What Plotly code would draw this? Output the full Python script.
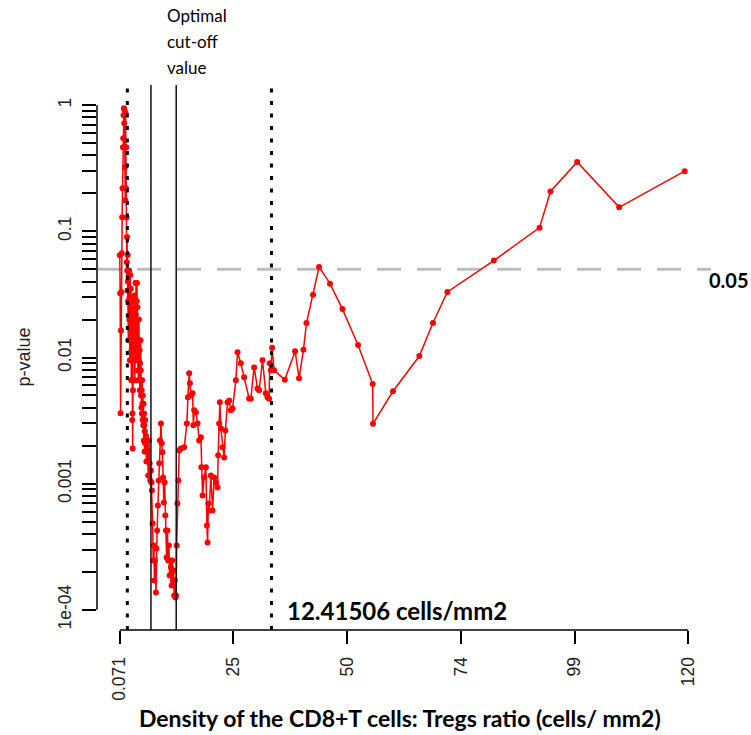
import plotly.graph_objects as go

# ---- data ----
ratio = [
    0.071, 0.155, 0.240, 0.324, 0.408, 0.493, 0.577, 0.661, 0.745, 0.809,
    0.872, 0.956, 1.019, 1.083, 1.167, 1.230, 1.293, 1.378, 1.441, 1.50,
    1.55, 1.60, 1.65, 1.70, 1.75, 1.80, 1.85, 1.90, 1.95, 2.00,
    2.05, 2.10, 2.15, 2.20, 2.25, 2.30, 2.35, 2.40, 2.45, 2.50,
    2.55, 2.60, 2.65, 2.70, 2.75, 2.80, 2.85, 2.90, 2.95, 3.00,
    3.05, 3.10, 3.15, 3.20, 3.25, 3.30, 3.35, 3.40, 3.45, 3.50,
    3.55, 3.60, 3.65, 3.70, 3.75, 3.80, 3.85, 3.90, 3.95, 4.00,
    4.05, 4.10, 4.15, 4.20, 4.25, 4.30, 4.35, 4.40, 4.45, 4.50,
    4.55, 4.60, 4.65, 4.70, 4.75, 4.80, 4.85, 4.90, 4.95, 5.00,
    5.05, 5.10, 5.15, 5.20, 5.25, 5.30, 5.35, 5.40, 5.45, 5.50,
    5.60, 5.70, 5.80, 5.951, 6.077, 6.225, 6.372, 6.499, 6.646, 6.752,
    6.857, 7.005,
    7.131, 7.279, 7.384, 7.489, 7.700, 7.806, 7.953, 8.122, 8.290, 8.396,
    8.543, 8.754, 8.923, 9.070, 9.218, 9.386, 9.534, 9.681, 9.808, 9.955,
    10.124, 10.271, 10.440, 10.588, 10.735, 10.861, 11.009, 11.157, 11.283, 11.430,
    11.557, 11.704, 11.831, 11.957, 12.084, 12.231, 12.442, 12.610, 12.969, 13.664,
    14.233, 14.444, 14.718, 14.865, 15.076, 15.434, 15.603, 15.772, 16.130, 16.488,
    16.826, 17.184, 17.289, 17.542, 17.879, 18.237, 18.448, 18.596, 18.764, 18.933,
    19.291, 19.650, 19.987, 20.345, 20.703, 20.830, 21.040, 21.188, 21.399, 21.757,
    22.094, 22.347, 22.811, 23.148, 23.506, 23.865, 24.560, 24.918, 25.614, 26.309,
    27.363, 27.721, 28.417, 29.133, 29.470, 30.187, 30.882, 31.241, 31.578, 31.700,
    31.936, 32.210, 32.630, 34.89, 37.06, 37.90, 38.83, 39.46, 40.85, 42.12,
    44.43, 47.05, 50.34, 53.43, 53.50, 57.71, 63.27, 66.14, 69.18, 78.99,
    88.63, 90.94, 96.57, 105.43, 119.25,
]

pval = [
    0.0646, 0.0323, 0.00361, 0.0164, 0.0329, 0.0670, 0.1293, 0.2197, 0.464, 0.547,
    0.833, 0.947, 0.720, 0.913, 0.322, 0.1764, 0.864, 0.2197, 0.464, 0.129,
    0.057, 0.090, 0.049, 0.034, 0.065, 0.040, 0.028, 0.0137, 0.045, 0.034,
    0.049, 0.020, 0.030, 0.0095, 0.028, 0.045, 0.016, 0.035, 0.024, 0.0066,
    0.0114, 0.028, 0.018, 0.0032, 0.0036, 0.0019, 0.0055, 0.016, 0.028, 0.0095,
    0.020, 0.0137, 0.031, 0.016, 0.0066, 0.0137, 0.024, 0.039, 0.022, 0.039,
    0.016, 0.0095, 0.028, 0.039, 0.020, 0.025, 0.0137, 0.0079, 0.0125, 0.0066,
    0.0095, 0.020, 0.0137, 0.0079, 0.0114, 0.0055, 0.0090, 0.0066, 0.0137, 0.0079,
    0.0050, 0.0066, 0.0040, 0.0055, 0.0036, 0.0066, 0.0043, 0.0032, 0.0050, 0.0035,
    0.0029, 0.0043, 0.0022, 0.0036, 0.0029, 0.0018, 0.0026, 0.0021, 0.0032, 0.0018,
    0.0024, 0.0015, 0.0022, 0.00183, 0.00116, 0.00220, 0.00145, 0.00106, 0.00127, 0.00102,
    0.000884, 0.000484,
    0.000246, 0.000324, 0.000171, 0.000246, 0.000137, 0.000306, 0.000426, 0.000672, 0.00106, 0.00145,
    0.00220, 0.00300, 0.00209, 0.00177, 0.00112, 0.00071, 0.00102, 0.00056, 0.000426, 0.00026,
    0.000426, 0.000246, 0.000324, 0.000187, 0.000246, 0.000217, 0.000156, 0.000246, 0.000171, 0.000205,
    0.000130, 0.000171, 0.000125, 0.000130, 0.000324, 0.000697, 0.00106, 0.00183, 0.0019, 0.00194,
    0.0030, 0.00483, 0.00749, 0.00624, 0.00501, 0.0052, 0.0029, 0.00381, 0.00367, 0.0030,
    0.0022, 0.00233, 0.00135, 0.000807, 0.00112, 0.00135, 0.000466, 0.000342, 0.000697, 0.000613,
    0.00116, 0.000613, 0.00112, 0.00102, 0.000934, 0.00168, 0.0030, 0.00441, 0.00274, 0.00194,
    0.00161, 0.00264, 0.00441, 0.00457, 0.00381, 0.00395, 0.00659, 0.01099, 0.00899, 0.00696,
    0.00474, 0.0047, 0.00835, 0.00569, 0.00549, 0.0095, 0.0052, 0.00483, 0.0047, 0.00899,
    0.00791, 0.01197, 0.00791, 0.00667, 0.0112, 0.00684, 0.01154, 0.01876, 0.0315, 0.0522,
    0.0385, 0.0242, 0.01256, 0.00616, 0.00299, 0.0054, 0.01027, 0.01876, 0.0331, 0.0586,
    0.107, 0.207, 0.355, 0.155, 0.2997,
]

dotted_cutoffs = [1.67, 32.08]
solid_cutoffs = [6.65, 11.98]
p_threshold = 0.05
threshold_label = "0.05"
cutoff_label = "12.41506 cells/mm2"
optimal_label_lines = ["Optimal", "cut-off", "value"]

x_tick_labels = ["0.071", "25", "50", "74", "99", "120"]
x_first, x_last = 0.071, 120.0
y_decades = [1e-4, 1e-3, 1e-2, 1e-1, 1.0]
y_decade_labels = ["1e-04", "0.001", "0.01", "0.1", "1"]

x_title = "Density of the CD8+T cells: Tregs ratio (cells/ mm2)"
y_title = "p-value"

# ---- figure ----
W, H = 751, 735
ML, MR, MT, MB = 97, 40, 85, 105
PW, PH = W - ML - MR, H - MT - MB

fig = go.Figure()

fig.add_trace(go.Scatter(
    x=ratio, y=pval, mode="lines+markers",
    line=dict(color="#ff0000", width=1.5),
    marker=dict(color="#ff0000", size=6),
    hoverinfo="skip", showlegend=False,
))

shapes = []
for xv in dotted_cutoffs:
    shapes.append(dict(type="line", xref="x", yref="paper", x0=xv, x1=xv, y0=0, y1=1,
                       line=dict(color="black", width=3, dash="4px,8.5px")))
for xv in solid_cutoffs:
    shapes.append(dict(type="line", xref="x", yref="paper", x0=xv, x1=xv, y0=0, y1=1,
                       line=dict(color="#111111", width=1.5)))
shapes.append(dict(type="line", xref="paper", yref="y", x0=0, x1=1, y0=p_threshold, y1=p_threshold,
                   line=dict(color="#bebebe", width=3, dash="24px,16px"), layer="below"))
# R-style axis lines (span only the tick range)
shapes.append(dict(type="line", xref="paper", yref="y", x0=0, x1=0, y0=y_decades[0], y1=y_decades[-1],
                   line=dict(color="black", width=1.5)))
shapes.append(dict(type="line", xref="x", yref="paper", x0=x_first, x1=x_last, y0=0, y1=0,
                   line=dict(color="black", width=1.5)))

n = len(x_tick_labels)
x_tickvals = [x_first + i * (x_last - x_first) / (n - 1) for i in range(n)]

y_tickvals, y_ticktext = [], []
for i, d in enumerate(y_decades):
    for m in range(1, 10):
        v = d * m
        if v <= y_decades[-1] * 1.0001:
            y_tickvals.append(v)
            y_ticktext.append(y_decade_labels[i] if m == 1 else "")

tickfont = dict(family="Liberation Sans, Arial, sans-serif", size=17.5, color="#222222")

fig.update_layout(
    width=W, height=H,
    margin=dict(l=ML, r=MR, t=MT, b=MB, pad=0),
    paper_bgcolor="white", plot_bgcolor="white",
    shapes=shapes,
    xaxis=dict(range=[-4.73, 124.8], showgrid=False, zeroline=False, showline=False,
               tickmode="array", tickvals=x_tickvals, ticktext=x_tick_labels,
               ticks="outside", ticklen=13, tickwidth=1.5, tickcolor="black",
               tickangle=-90, tickfont=tickfont, ticklabelstandoff=6),
    yaxis=dict(type="log", range=[-4.16, 0.16], showgrid=False, zeroline=False, showline=False,
               tickmode="array", tickvals=y_tickvals, ticktext=y_ticktext,
               ticks="outside", ticklen=14, tickwidth=1.5, tickcolor="black",
               tickangle=-90, tickfont=tickfont, ticklabelstandoff=4),
)

ann = []
ann.append(dict(text=f"<b>{x_title}</b>", xref="paper", yref="paper",
                x=(400 - ML) / PW, y=(MT + PH - 718) / PH, showarrow=False,
                font=dict(family="Lato, sans-serif", size=23, color="black"),
                xanchor="center", yanchor="middle"))
ann.append(dict(text=y_title, xref="paper", yref="paper", x=(23 - ML) / PW, y=0.5,
                showarrow=False, textangle=-90,
                font=dict(family="Liberation Sans, Arial, sans-serif", size=18, color="#222222"),
                xanchor="center", yanchor="middle"))
ann.append(dict(text=f"<b>{threshold_label}</b>", xref="paper", yref="y",
                x=(707 - ML) / PW, y=-1.30103, yshift=-11, showarrow=False,
                font=dict(family="Lato, sans-serif", size=20, color="black"),
                xanchor="left", yanchor="middle"))
ann.append(dict(text=f"<b>{cutoff_label}</b>", xref="paper", yref="paper",
                x=(285 - ML) / PW, y=(MT + PH - 610) / PH, showarrow=False,
                font=dict(family="Lato, sans-serif", size=24, color="black"),
                xanchor="left", yanchor="middle"))
for i, line in enumerate(optimal_label_lines):
    yc = 15 + 26 * i
    ann.append(dict(text=line, xref="paper", yref="paper",
                    x=(165 - ML) / PW, y=(MT + PH - yc) / PH, showarrow=False,
                    font=dict(family="Lato, sans-serif", size=17, color="black"),
                    xanchor="left", yanchor="middle"))
fig.update_layout(annotations=ann)

fig.write_html("out.html", config={"displayModeBar": False},
               post_script="document.body.style.margin='0px';document.body.style.padding='0px';")
